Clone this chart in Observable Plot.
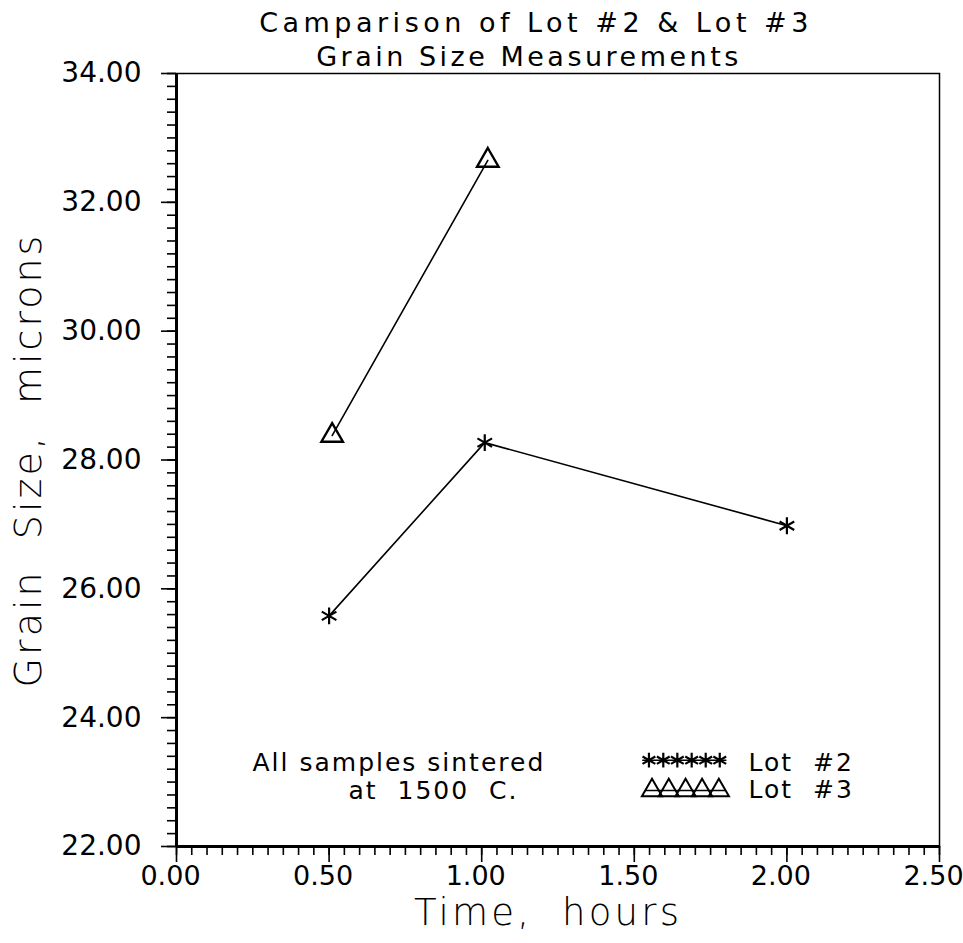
<!DOCTYPE html>
<html><head><meta charset="utf-8">
<script src="https://cdn.jsdelivr.net/npm/d3@7"></script>
<script src="https://cdn.jsdelivr.net/npm/@observablehq/plot@0.6"></script>
<style>body{margin:0;background:#fff}</style>
</head><body><div id="chart"></div>
<script>
// Data
const lot2Time = [0.50, 1.01, 2.00];
const lot2Size = [25.58, 28.27, 26.98];
const lot3Time = [0.51, 1.02];
const lot3Size = [28.38, 32.65];
const xTicks = [0, 0.5, 1, 1.5, 2, 2.5];
const yTicks = [22, 24, 26, 28, 30, 32, 34];
const xMinor = d3.range(0, 2.5001, 0.05);
const yMinor = d3.range(22, 34.001, 0.2);
const titleLines = ["Camparison of Lot #2 & Lot #3", "Grain Size Measurements"];
const xLabel = "Time,  hours";
const yLabel = "Grain  Size,  microns";
const noteLines = ["All samples sintered", "at  1500  C."];
const legendLabels = ["Lot  #2", "Lot  #3"];
// legend sample positions (data units)
const legendStarX = [1.548, 1.595, 1.641, 1.688, 1.734, 1.780];
const legendStarY = 23.34;
const legendTriX = [1.558, 1.613, 1.668, 1.722, 1.777];
const legendTriY = 22.87;

const lot2 = lot2Time.map((t, i) => ({time: t, size: lot2Size[i]}));
const lot3 = lot3Time.map((t, i) => ({time: t, size: lot3Size[i]}));
const legStars = legendStarX.map(x => ({time: x, size: legendStarY}));
const legTris = legendTriX.map(x => ({time: x, size: legendTriY}));
const legStarLine = [{time: legendStarX[0] - 0.02, size: legendStarY}, {time: legendStarX[legendStarX.length-1] + 0.02, size: legendStarY}];
const legTriLine = [{time: legendTriX[0] - 0.02, size: legendTriY}, {time: legendTriX[legendTriX.length-1] + 0.02, size: legendTriY}];

const fmt = d => d.toFixed(2);
const plot = Plot.plot({
  width: 963, height: 943,
  marginLeft: 176, marginRight: 24, marginTop: 73, marginBottom: 97,
  x: {domain: [0, 2.5]},
  y: {domain: [22, 34]},
  style: {fontFamily: "DejaVu Sans", fontSize: "28px", color: "black", background: "white", overflow: "visible"},
  marks: [
    Plot.frame({stroke: "black", strokeWidth: 1.5}),
    Plot.axisX({ticks: xMinor, tickSize: 9, tickFormat: () => "", label: null, strokeWidth: 1.6}),
    Plot.axisX({ticks: xTicks, tickSize: 16, tickFormat: () => "", label: null, strokeWidth: 1.6}),
    Plot.axisX({ticks: xTicks, tickSize: 0, tickPadding: 19, tickFormat: fmt, label: null, fontSize: 27, dx: -6}),
    Plot.axisY({ticks: yMinor, tickSize: 9, tickFormat: () => "", label: null, strokeWidth: 1.6}),
    Plot.axisY({ticks: yTicks, tickSize: 15, tickPadding: 20, tickFormat: fmt, label: null, strokeWidth: 1.6, fontSize: 28}),
    Plot.ruleX([0], {strokeWidth: 3}),
    Plot.ruleY([22], {strokeWidth: 3}),
    Plot.line(lot2, {x: "time", y: "size", stroke: "black", strokeWidth: 1.6}),
    Plot.dot(lot2, {x: "time", y: "size", symbol: "asterisk", r: 8, stroke: "black", strokeWidth: 2.2}),
    Plot.line(lot3, {x: "time", y: "size", stroke: "black", strokeWidth: 1.6}),
    Plot.dot(lot3, {x: "time", y: "size", symbol: "triangle", r: 8, stroke: "black", fill: "none", strokeWidth: 2.4}),
    // legend
    Plot.line(legStarLine, {x: "time", y: "size", stroke: "black", strokeWidth: 1.6}),
    Plot.dot(legStars, {x: "time", y: "size", symbol: "asterisk", r: 7, stroke: "black", strokeWidth: 2.2}),
    Plot.line(legTriLine, {x: "time", y: "size", stroke: "black", strokeWidth: 1.6}),
    Plot.dot(legTris, {x: "time", y: "size", symbol: "triangle", r: 7.5, stroke: "black", fill: "none", strokeWidth: 2}),
    Plot.text([legendLabels[0]], {text: d => d, frameAnchor: "bottom-left", textAnchor: "start", lineAnchor: "middle", dx: 572, dy: -84, fontSize: 25}),
    Plot.text([legendLabels[1]], {text: d => d, frameAnchor: "bottom-left", textAnchor: "start", lineAnchor: "middle", dx: 572, dy: -57, fontSize: 25}),
    // note
    Plot.text([noteLines[0]], {text: d => d, frameAnchor: "bottom-left", textAnchor: "start", lineAnchor: "middle", dx: 76, dy: -84, fontSize: 25}),
    Plot.text([noteLines[1]], {text: d => d, frameAnchor: "bottom-left", textAnchor: "start", lineAnchor: "middle", dx: 172, dy: -56, fontSize: 25}),
    // titles
    Plot.text([titleLines[0]], {text: d => d, frameAnchor: "top", lineAnchor: "middle", dx: -22, dy: -50, fontSize: 27}),
    Plot.text([titleLines[1]], {text: d => d, frameAnchor: "top", lineAnchor: "middle", dx: -29, dy: -16, fontSize: 27}),
    Plot.text([xLabel], {text: d => d, frameAnchor: "bottom", lineAnchor: "middle", dx: -10, dy: 67, fontSize: 37, fontWeight: 200}),
    Plot.text([yLabel], {text: d => d, frameAnchor: "left", textAnchor: "middle", lineAnchor: "middle", rotate: -90, dx: -148, dy: 0, fontSize: 38, fontWeight: 200})
  ]
});

const spacing = new Map([
  [titleLines[0], 4.5], [titleLines[1], 3.5],
  [xLabel, 3.2], [yLabel, 3],
  [noteLines[0], 2], [noteLines[1], 2],
  [legendLabels[0], 2], [legendLabels[1], 2]
]);
d3.select(plot).selectAll("text").each(function() {
  const t = this.textContent;
  if (spacing.has(t)) {
    this.style.letterSpacing = spacing.get(t) + "px";
    this.style.whiteSpace = "pre";
    this.setAttribute("xml:space", "preserve");
  }
});
document.getElementById("chart").appendChild(plot);
</script>
</body></html>
